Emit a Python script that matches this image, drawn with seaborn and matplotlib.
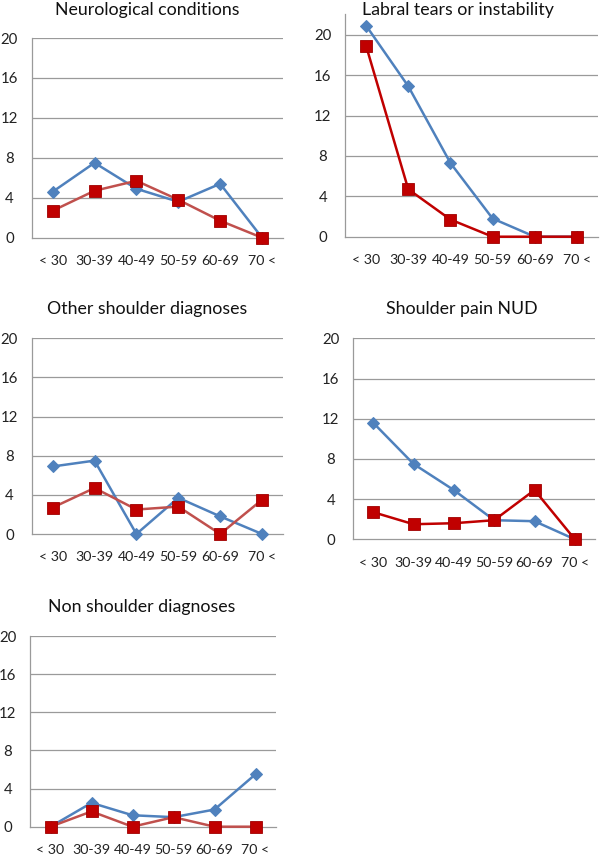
import matplotlib
matplotlib.use("Agg")
import matplotlib.pyplot as plt
import seaborn as sns
import pandas as pd

sns.set_theme(style="white")
plt.rcParams['font.family'] = ['Lato', 'DejaVu Sans']

categories = ["< 30", "30-39", "40-49", "50-59", "60-69", "70 <"]
titles = ["Neurological conditions", "Labral tears or instability",
          "Other shoulder diagnoses", "Shoulder pain NUD", "Non shoulder diagnoses"]

neuro_blue = [4.6, 7.5, 4.9, 3.6, 5.4, 0.0]
neuro_red = [2.7, 4.7, 5.7, 3.8, 1.7, 0.0]
labral_blue = [20.9, 14.9, 7.3, 1.8, 0.0, 0.0]
labral_red = [18.9, 4.7, 1.7, 0.0, 0.0, 0.0]
other_blue = [6.9, 7.5, 0.0, 3.7, 1.8, 0.0]
other_red = [2.7, 4.7, 2.5, 2.8, 0.0, 3.5]
nud_blue = [11.6, 7.5, 4.9, 1.9, 1.8, 0.0]
nud_red = [2.7, 1.5, 1.6, 1.9, 4.9, 0.0]
non_blue = [0.0, 2.5, 1.2, 1.0, 1.8, 5.5]
non_red = [0.0, 1.6, 0.0, 1.0, 0.0, 0.0]

panels = [
    (titles[0], neuro_blue, neuro_red),
    (titles[1], labral_blue, labral_red),
    (titles[2], other_blue, other_red),
    (titles[3], nud_blue, nud_red),
    (titles[4], non_blue, non_red),
]

W, H = 600, 857
fig = plt.figure(figsize=(W / 100, H / 100), dpi=100)

# pixel boxes: left, right, y-at-0, y-at-20, ymax, title center x, title center y
boxes = [
    (31.7, 283, 237.7, 38.0, 20, 147, 10),
    (345, 598, 236.7, 34.7, 22, 458, 10),
    (31.7, 283, 534.0, 338.3, 20, 147, 309),
    (353, 595, 539.3, 338.3, 20, 462, 309),
    (30, 276, 826.7, 636.0, 20, 142, 607),
]
red_line_colors = ["#C0504D", "#C00000", "#C0504D", "#C00000", "#C0504D"]

BLUE = "#4F81BD"
RED_MARK = "#C00000"
GRID = "#9A9A9A"

for i, (title, blue, red) in enumerate(panels):
    l, r, y0, y20, ymax, tx, ty = boxes[i]
    unit = (y0 - y20) / 20.0
    top_px = y0 - unit * ymax
    ax = fig.add_axes([l / W, 1 - y0 / H, (r - l) / W, (y0 - top_px) / H])
    df = pd.DataFrame({"x": list(range(len(categories))), "blue": blue, "red": red})
    sns.lineplot(data=df, x="x", y="blue", ax=ax, color=BLUE, lw=1.8,
                 marker="D", markersize=6, markeredgecolor=BLUE,
                 markerfacecolor=BLUE, zorder=3, clip_on=False)
    sns.lineplot(data=df, x="x", y="red", ax=ax, color=red_line_colors[i], lw=1.8,
                 marker="s", markersize=8, markeredgecolor="#A00000",
                 markeredgewidth=0.6, markerfacecolor=RED_MARK, zorder=4,
                 clip_on=False)
    ax.set_xlim(-0.5, len(categories) - 0.5)
    ax.set_ylim(0, ymax)
    ax.set_yticks([0, 4, 8, 12, 16, 20])
    ax.set_xticks(range(len(categories)))
    ax.set_xticklabels(categories)
    ax.set_xlabel("")
    ax.set_ylabel("")
    ax.grid(False)
    for v in [4, 8, 12, 16, 20]:
        ax.axhline(v, color=GRID, lw=0.9, zorder=1)
    for s in ["top", "right"]:
        ax.spines[s].set_visible(False)
    ax.spines["left"].set_color(GRID)
    ax.spines["left"].set_linewidth(0.9)
    ax.spines["bottom"].set_color(GRID)
    ax.spines["bottom"].set_linewidth(0.9)
    ax.tick_params(axis="x", length=0, labelsize=10.2, colors="#222222")
    ax.tick_params(axis="y", length=0, labelsize=10.8, colors="#222222")
    ax.tick_params(axis="y", pad=16)
    ax.tick_params(axis="x", pad=12.5)
    for t in ax.get_yticklabels():
        t.set_horizontalalignment("center")
    ax.set_facecolor("none")
    fig.text(tx / W, 1 - ty / H, title, ha="center", va="center",
             fontsize=12.8, color="#111111")

fig.savefig("out.png", dpi=100, facecolor="white")
